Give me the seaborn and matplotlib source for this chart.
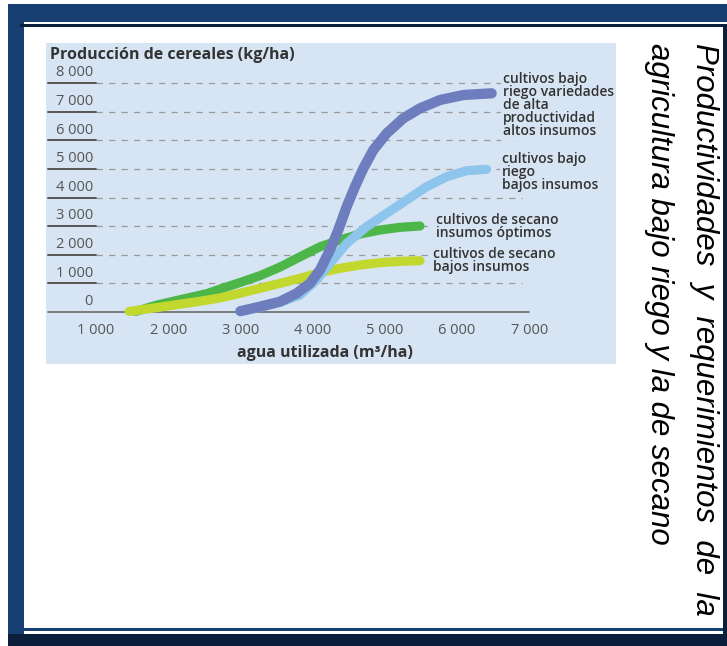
import numpy as np
import pandas as pd
import matplotlib
matplotlib.use("Agg")
import matplotlib.pyplot as plt
import matplotlib.patches as mpatches
import seaborn as sns

# ---------------- data ----------------
riego_alto_x = [3000, 3271, 3548, 3779, 3964, 4102, 4241, 4356, 4472, 4587, 4703,
                4841, 5026, 5256, 5488, 5765, 6087, 6480]
riego_alto_y = [30, 186, 361, 653, 1002, 1469, 2168, 2867, 3683, 4382, 5023,
                5664, 6247, 6772, 7122, 7413, 7587, 7646]

riego_bajo_x = [3000, 3300, 3550, 3825, 4056, 4241, 4472, 4749, 5026, 5303, 5580,
                5857, 6134, 6411]
riego_bajo_y = [30, 180, 340, 594, 1119, 1702, 2401, 2984, 3450, 3916, 4382,
                4731, 4941, 4989]

secano_opt_x = [1550, 1840, 2200, 2533, 2717, 2994, 3271, 3548, 3825, 4102, 4380,
                4657, 4934, 5211, 5488]
secano_opt_y = [20, 240, 450, 640, 800, 1030, 1270, 1570, 1930, 2280, 2517,
                2727, 2867, 2960, 3007]

secano_bajo_x = [1460, 1800, 2100, 2400, 2717, 2994, 3271, 3548, 3825, 4102, 4380,
                 4657, 4934, 5211, 5488]
secano_bajo_y = [20, 140, 250, 360, 490, 653, 828, 1002, 1177, 1375, 1527,
                 1643, 1725, 1772, 1795]

series_names = [
    "cultivos de secano\ninsumos óptimos",
    "cultivos de secano\nbajos insumos",
    "cultivos bajo\nriego\nbajos insumos",
    "cultivos bajo\nriego variedades\nde alta\nproductividad\naltos insumos",
]
series_colors = ["#4cb748", "#c3d82e", "#8ec5ec", "#6e7dbd"]
series_widths = [6.6, 6.6, 6.6, 7.4]

x_ticks = [1000, 2000, 3000, 4000, 5000, 6000, 7000]
x_tick_labels = ["1 000", "2 000", "3 000", "4 000", "5 000", "6 000", "7 000"]
y_ticks = [0, 1000, 2000, 3000, 4000, 5000, 6000, 7000, 8000]
y_tick_labels = ["0", "1 000", "2 000", "3 000", "4 000", "5 000", "6 000", "7 000", "8 000"]

chart_title = "Producción de cereales (kg/ha)"
x_label = "agua utilizada (m³/ha)"
slide_title_1 = "Productividades  y  requerimientos  de  la"
slide_title_2 = "agricultura bajo riego y la de secano"

# label anchor points (left, top) in data units
label_pos = [(5709, 3462), (5668, 2273), (6623, 5594), (6637, 8392)]

frames = []
for name, xs, ys in zip(series_names,
                        [secano_opt_x, secano_bajo_x, riego_bajo_x, riego_alto_x],
                        [secano_opt_y, secano_bajo_y, riego_bajo_y, riego_alto_y]):
    frames.append(pd.DataFrame({"agua": xs, "prod": ys, "serie": name}))
df = pd.concat(frames, ignore_index=True)

# ---------------- figure ----------------
sns.set_theme(style="white")
plt.rcParams["font.family"] = ["Open Sans", "DejaVu Sans"]

W, H = 727, 646
fig = plt.figure(figsize=(W / 100, H / 100), dpi=100)
fig.patch.set_facecolor("white")

# slide frame (pixel coordinates)
bg = fig.add_axes([0, 0, 1, 1], zorder=0)
bg.set_xlim(0, W)
bg.set_ylim(H, 0)
bg.axis("off")
BLUE = "#183f72"
NAVY = "#0b1f3d"
bg.add_patch(mpatches.Rectangle((8, 4), W - 8, 18, color=BLUE, lw=0))
bg.add_patch(mpatches.Rectangle((8, 4), 16, 630, color=BLUE, lw=0))
bg.add_patch(mpatches.Rectangle((20, 24), 703, 2.5, color=NAVY, lw=0))
bg.add_patch(mpatches.Rectangle((723, 24), 4, 610, color=NAVY, lw=0))
bg.add_patch(mpatches.Rectangle((24, 628), 699, 2.5, color=BLUE, lw=0))
bg.add_patch(mpatches.Rectangle((8, 634), W - 8, 12, color=NAVY, lw=0))

title_font = ["Liberation Sans", "DejaVu Sans"]
bg.text(696, 43, slide_title_1, rotation=-90, rotation_mode="anchor",
        ha="left", va="baseline", fontsize=22.5, style="italic",
        family=title_font, color="black")
bg.text(651, 43, slide_title_2, rotation=-90, rotation_mode="anchor",
        ha="left", va="baseline", fontsize=22.5, style="italic",
        family=title_font, color="black")

# chart axes
L, T, R, B = 46, 43, 616, 364
ax = fig.add_axes([L / W, 1 - B / H, (R - L) / W, (B - T) / H], zorder=1)
ax.set_facecolor("#d6e4f3")
for s in ax.spines.values():
    s.set_visible(False)
ax.set_xticks([])
ax.set_yticks([])

px_per_x = 72.2 / 1000
px_per_y = 28.6 / 1000
x_left = 1000 - (96 - L) / px_per_x
x_right = 1000 + (R - 96) / px_per_x
y_top = (312 - T) / px_per_y
y_bottom = (312 - B) / px_per_y
ax.set_xlim(x_left, x_right)
ax.set_ylim(y_bottom, y_top)

x_under_start = 1000 - 48 / 72.2 * 1000
for v, lab in zip(y_ticks, y_tick_labels):
    if v == 0:
        ax.plot([x_under_start, 7000], [0, 0], color="#6a6a6a", lw=1.2, zorder=2)
    else:
        ax.plot([1000, 6900], [v, v], color="#9a9a9a", lw=0.9,
                dashes=(5, 5), zorder=1)
        ax.plot([x_under_start, 1000], [v, v], color="#555555", lw=1.4, zorder=2)
    ax.text(958, v + 100, lab, ha="right", va="bottom", fontsize=10.5, color="#555555")

for v, lab in zip(x_ticks, x_tick_labels):
    ax.text(v, -630, lab, ha="center", va="center", fontsize=10.5, color="#555555")

ax.text(4172, -1434, x_label, ha="center", va="center", fontsize=11.5,
        fontweight="bold", color="#333333")
ax.text(363, 8986, chart_title, ha="left", va="center", fontsize=11.5,
        fontweight="bold", color="#333333")

for name, col, lw in zip(series_names, series_colors, series_widths):
    sns.lineplot(data=df[df["serie"] == name], x="agua", y="prod", color=col,
                 sort=False, estimator=None, legend=False, lw=lw,
                 solid_capstyle="round", solid_joinstyle="round", ax=ax, zorder=3)
ax.set_xlabel("")
ax.set_ylabel("")

for name, (lx, ly) in zip(series_names, label_pos):
    ax.text(lx, ly, name, ha="left", va="top", fontsize=10, fontweight="semibold",
            color="#333333", linespacing=0.92, zorder=4,
            bbox=dict(boxstyle="square,pad=0.15", fc="#d6e4f3", ec="none"))

fig.savefig("out.png", dpi=100)
